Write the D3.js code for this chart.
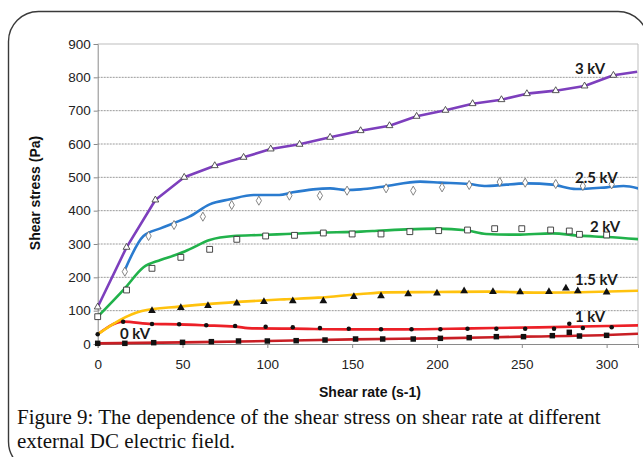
<!DOCTYPE html>
<html><head><meta charset="utf-8">
<script src="https://cdn.jsdelivr.net/npm/d3@7/dist/d3.min.js"></script>
<style>html,body{margin:0;padding:0;background:#fff;}svg{display:block;}</style>
</head><body>
<svg id="c" width="643" height="457"></svg>
<script>
// ---- data ----
const xTicks = [0, 50, 100, 150, 200, 250, 300];
const yTicks = [0, 100, 200, 300, 400, 500, 600, 700, 800, 900];

const kv3LineX = [0,17,34,51,69,86,102,119,137,155,172,188,205,221,238,253,270,287,304,318];
const kv3LineY = [111,290,432,500,535,560,585,599,620,640,655,683,701,721,733,751,760,774,806,817];
const kv3PtsX  = [0,17,34,51,69,86,102,119,137,155,172,188,205,221,238,253,270,287,304];
const kv3PtsY  = [111,290,432,500,535,560,585,599,620,640,655,683,701,721,733,751,760,774,806];

const kv25LineX = [16,27,37,47,54,66,78,92,107,115,127,137,147,155,168,190,202,219,229,253,268,282,300,310,320];
const kv25LineY = [222,324,347,367,382,419,434,447,447,455,464,467,462,464,472,487,484,480,474,482,478,465,470,474,465];
const kv25PtsX  = [16,30,45,62,79,95,113,131,147,170,186,203,219,237,252,270,286,303];
const kv25PtsY  = [217,324,357,382,417,430,445,445,460,467,460,470,477,486,484,480,474,479];

const kv2LineX = [0,16,27,37,47,54,66,80,96,111,131,155,162,182,200,217,229,247,268,284,300,320];
const kv2LineY = [82,167,230,252,269,284,312,324,327,330,334,337,339,344,346,341,330,328,332,325,321,314];
const kv2PtsX  = [0,17,32,49,66,82,99,116,133,150,167,184,201,218,234,250,267,278,284,300];
const kv2PtsY  = [82,162,227,260,284,314,324,326,333,330,330,337,340,342,346,346,342,339,329,327];

const kv15LineX = [0,26,48,68,88,110,130,155,170,200,230,260,290,320];
const kv15LineY = [29,99,112,121,128,134,139,150,155,156,157,154,156,160];
const kv15PtsX  = [32,49,65,82,98,115,133,151,167,183,200,216,233,249,266,276,283,300];
const kv15PtsY  = [100,109,115,122,127,129,129,142,144,150,152,159,157,156,157,167,159,155];

const kv1LineX = [0,15,32,48,64,81,91,115,148,181,221,260,300,320];
const kv1LineY = [29,67,60,59,56,52,47,46,44,44,47,50,54,56];
const kv1PtsX  = [0,15,32,48,64,81,99,115,131,148,167,185,202,218,235,252,269,278,286,303];
const kv1PtsY  = [29,67,60,59,56,54,52,50,48,46,44,44,44,46,46,46,46,61,48,50];

const kv0LineX = [0,50,100,150,200,250,300,320];
const kv0LineY = [2,5,9,14,17,22,27,31];
const kv0PtsX  = [0,16,33,50,67,83,100,117,134,152,168,186,202,219,235,251,268,278,284,300];
const kv0PtsY  = [2,2,4,5,7,9,9,10,12,15,15,15,17,19,22,22,25,35,24,26];

const seriesNames = ["3 kV", "2.5 kV", "2 kV", "1.5 kV", "1 kV", "0 kV"];

const captionLines = [
  "Figure 9: The dependence of the shear stress on shear rate at different",
  "external DC electric field."
];

// ---- chart ----
const svg = d3.select("#c");
const x = d3.scaleLinear().domain([0, 318.5]).range([97.7, 638]);
const y = d3.scaleLinear().domain([0, 900]).range([344, 44]);

// frame
svg.append("rect").attr("x", 8.5).attr("y", 11.5).attr("width", 639.5).attr("height", 460)
  .attr("rx", 30).attr("ry", 30).attr("fill", "none").attr("stroke", "#3a3a3a").attr("stroke-width", 1.4);

// gridlines
svg.append("g").selectAll("line").data(yTicks.filter(d => d > 0 && d < 900)).join("line")
  .attr("x1", x(0)).attr("x2", x(318.5)).attr("y1", d => y(d)).attr("y2", d => y(d))
  .attr("stroke", "#9a9a9a").attr("stroke-width", 1).attr("stroke-dasharray", "2,1");
// top and right border
svg.append("line").attr("x1", x(0)).attr("x2", x(318.5)).attr("y1", y(900)).attr("y2", y(900))
  .attr("stroke", "#bdbdbd").attr("stroke-width", 1);
svg.append("line").attr("x1", x(318.5)).attr("x2", x(318.5)).attr("y1", y(900)).attr("y2", y(0))
  .attr("stroke", "#bdbdbd").attr("stroke-width", 1);

// axes
const yAxis = svg.append("g").attr("transform", `translate(${x(0)},0)`)
  .call(d3.axisLeft(y).tickValues(yTicks).tickSize(4).tickPadding(3));
const xAxis = svg.append("g").attr("transform", `translate(0,${y(0)})`)
  .call(d3.axisBottom(x).tickValues(xTicks).tickSize(4).tickPadding(11));
[yAxis, xAxis].forEach(g => {
  g.select(".domain").attr("stroke", "#8a8a8a");
  g.selectAll(".tick line").attr("stroke", "#8a8a8a");
  g.selectAll(".tick text").attr("fill", "#222").style("font-family", "'Liberation Sans', Arial, sans-serif").style("font-size", "13.5px");
});

// axis titles
svg.append("text").attr("transform", "translate(40,193) rotate(-90)").attr("text-anchor", "middle")
  .style("font-family", "'Liberation Sans', Arial, sans-serif").style("font-size", "14px").style("font-weight", "bold")
  .attr("fill", "#111").text("Shear stress (Pa)");
svg.append("text").attr("x", 370).attr("y", 397).attr("text-anchor", "middle")
  .style("font-family", "'Liberation Sans', Arial, sans-serif").style("font-size", "14px").style("font-weight", "bold")
  .attr("fill", "#111").text("Shear rate (s-1)");

// lines
const series = [
  {lx: kv0LineX, ly: kv0LineY, px: kv0PtsX, py: kv0PtsY, color: "#c81e24", marker: "fsquare", curve: d3.curveMonotoneX},
  {lx: kv1LineX, ly: kv1LineY, px: kv1PtsX, py: kv1PtsY, color: "#ec2027", marker: "dot", curve: d3.curveMonotoneX},
  {lx: kv15LineX, ly: kv15LineY, px: kv15PtsX, py: kv15PtsY, color: "#ffc20e", marker: "ftri", curve: d3.curveMonotoneX},
  {lx: kv2LineX, ly: kv2LineY, px: kv2PtsX, py: kv2PtsY, color: "#21b24b", marker: "osquare", curve: d3.curveMonotoneX},
  {lx: kv25LineX, ly: kv25LineY, px: kv25PtsX, py: kv25PtsY, color: "#2a7bcf", marker: "odiamond", curve: d3.curveMonotoneX},
  {lx: kv3LineX, ly: kv3LineY, px: kv3PtsX, py: kv3PtsY, color: "#7d3fbd", marker: "otri", curve: d3.curveLinear}
];
svg.append("clipPath").attr("id", "pc").append("rect")
  .attr("x", x(0)).attr("y", y(900)).attr("width", x(318.5) - x(0)).attr("height", y(0) - y(900) + 2);

const gLines = svg.append("g").attr("clip-path", "url(#pc)");
series.forEach(s => {
  const line = d3.line().x(d => x(d[0])).y(d => y(d[1])).curve(s.curve);
  gLines.append("path").datum(s.lx.map((v, i) => [v, s.ly[i]]))
    .attr("d", line).attr("fill", "none").attr("stroke", s.color).attr("stroke-width", 2.6)
    .attr("stroke-linejoin", "round");
});

const sym = {
  fsquare: {type: d3.symbolSquare, size: 30, fill: "#111", stroke: "none"},
  dot: {type: d3.symbolCircle, size: 16, fill: "#111", stroke: "none"},
  ftri: {type: d3.symbolTriangle, size: 26, fill: "#111", stroke: "none"},
  osquare: {type: d3.symbolSquare, size: 34, fill: "#fff", stroke: "#333"},
  odiamond: {type: d3.symbolDiamond, size: 24, fill: "#fff", stroke: "#777"},
  otri: {type: d3.symbolTriangle, size: 20, fill: "#fff", stroke: "#444"}
};
series.forEach(s => {
  const m = sym[s.marker];
  svg.append("g").selectAll("path").data(s.px.map((v, i) => [v, s.py[i]])).join("path")
    .attr("transform", d => `translate(${x(d[0])},${y(d[1])})`)
    .attr("d", d3.symbol().type(m.type).size(m.size))
    .attr("fill", m.fill).attr("stroke", m.stroke).attr("stroke-width", 0.9);
});

// series labels
const labelPos = [[575, 74], [575, 183], [590, 232], [575, 285], [575, 322], [120, 339]];
svg.append("g").selectAll("text").data(seriesNames).join("text")
  .attr("x", (d, i) => labelPos[i][0]).attr("y", (d, i) => labelPos[i][1])
  .style("font-family", "Lato, 'Open Sans', sans-serif").style("font-size", "15px").style("font-weight", "bold")
  .attr("fill", "#1a1a1a").text(d => d);

// caption
const cap = svg.append("g").selectAll("text").data(captionLines).join("text")
  .attr("x", 17).attr("y", (d, i) => 424 + i * 24)
  .style("font-family", "'Liberation Serif', 'Times New Roman', serif").style("font-size", "20px")
  .attr("fill", "#111").text(d => d);
const w0 = cap.nodes()[0].getComputedTextLength();
const fs = 20 * 584 / w0;
cap.style("font-size", fs + "px");
</script>
</body></html>
